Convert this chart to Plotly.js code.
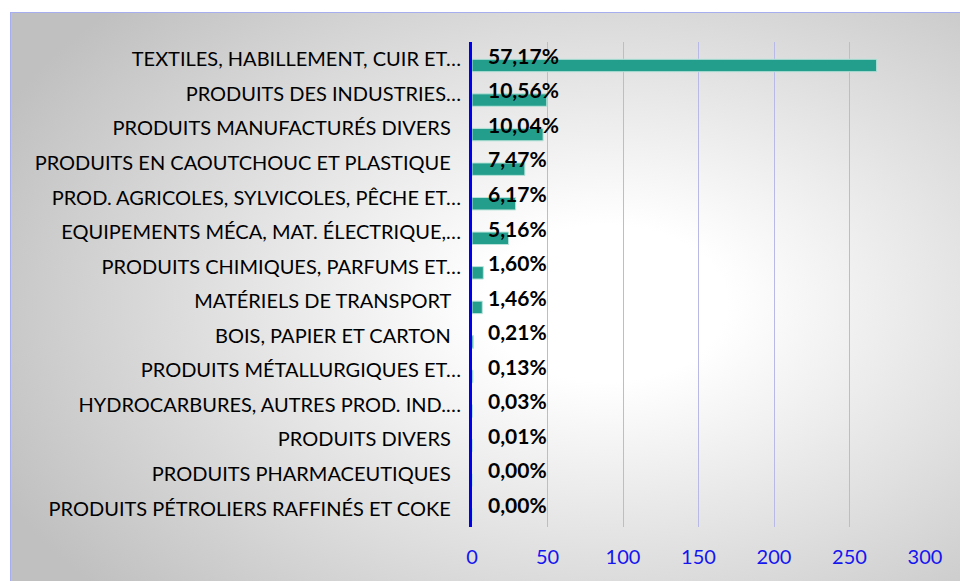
<!DOCTYPE html>
<html>
<head>
<meta charset="utf-8">
<script src="https://cdn.plot.ly/plotly-3.0.1.min.js"></script>
<style>
  html, body { margin: 0; padding: 0; width: 960px; height: 581px; overflow: hidden; background: #ffffff; }
  #bg { position: absolute; left: 10px; top: 12px; width: 960px; height: 581px;
        border-left: 1px solid #a7aef0; border-top: 1px solid #a7aef0;
        background: radial-gradient(ellipse 70% 75% at 62% 50%, #ffffff 0%, #ffffff 18%, #c0c0c0 100%); }
  #chart { position: absolute; left: 0; top: 0; width: 960px; height: 581px; }
</style>
</head>
<body>
<div id="bg"></div>
<div id="chart"></div>
<script>
const categories = [
  "TEXTILES, HABILLEMENT, CUIR ET…",
  "PRODUITS DES INDUSTRIES…",
  "PRODUITS MANUFACTURÉS DIVERS\u00a0\u00a0",
  "PRODUITS EN CAOUTCHOUC ET PLASTIQUE\u00a0\u00a0",
  "PROD. AGRICOLES, SYLVICOLES, PÊCHE ET…",
  "EQUIPEMENTS MÉCA, MAT. ÉLECTRIQUE,…",
  "PRODUITS CHIMIQUES, PARFUMS ET…",
  "MATÉRIELS DE TRANSPORT\u00a0\u00a0",
  "BOIS, PAPIER ET CARTON\u00a0\u00a0",
  "PRODUITS MÉTALLURGIQUES ET…",
  "HYDROCARBURES, AUTRES PROD. IND.…",
  "PRODUITS DIVERS\u00a0\u00a0",
  "PRODUITS PHARMACEUTIQUES\u00a0\u00a0",
  "PRODUITS PÉTROLIERS RAFFINÉS ET COKE\u00a0\u00a0"
];
const values = [268, 49.5, 47.1, 35.0, 28.9, 24.2, 7.5, 6.8, 1.0, 0.6, 0.14, 0.05, 0, 0];
const shareLabels = ["57,17%", "10,56%", "10,04%", "7,47%", "6,17%", "5,16%", "1,60%", "1,46%",
                     "0,21%", "0,13%", "0,03%", "0,01%", "0,00%", "0,00%"];
const xTicks = [0, 50, 100, 150, 200, 250, 300];

const labelFont = "Lato, sans-serif";

const trace = {
  type: "bar",
  orientation: "h",
  y: categories,
  x: values,
  width: 0.36,
  offset: 0,
  marker: { color: "#239e8c", line: { color: "#b9e3da", width: 1 } },
  hoverinfo: "skip"
};

const annotations = categories.map((c, i) => ({
  x: 0, y: c, xref: "x", yref: "y",
  text: "<b>" + shareLabels[i] + "</b>",
  showarrow: false, xanchor: "left", yanchor: "middle",
  xshift: 14, yshift: 4,
  font: { family: labelFont, size: 21, color: "#000000" }
}));

const layout = {
  width: 960, height: 581,
  paper_bgcolor: "rgba(0,0,0,0)",
  plot_bgcolor: "rgba(0,0,0,0)",
  margin: { l: 472, r: 35, t: 42, b: 54 },
  showlegend: false,
  xaxis: {
    range: [0, 300],
    tickvals: xTicks,
    ticktext: xTicks.map(String),
    showgrid: true, gridcolor: "#b9b9e6", gridwidth: 1,
    zeroline: false, showline: false, ticks: "",
    ticklabelstandoff: 16,
    tickfont: { family: labelFont, size: 20, color: "#1515f0" },
    fixedrange: true
  },
  yaxis: {
    type: "category",
    autorange: "reversed",
    showgrid: false, zeroline: false,
    showline: true, linecolor: "#0000ee", linewidth: 3,
    ticks: "", ticklabelstandoff: 4,
    tickfont: { family: labelFont, size: 20, color: "#000000" },
    fixedrange: true
  },
  annotations: annotations
};

Plotly.newPlot("chart", [trace], layout, { displayModeBar: false, staticPlot: true });
</script>
</body>
</html>
